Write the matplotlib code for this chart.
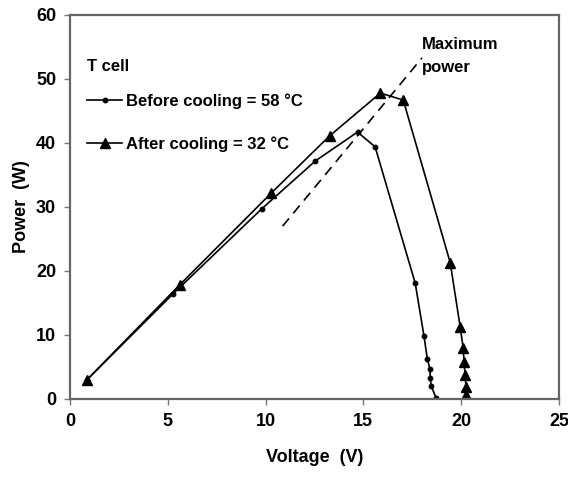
import matplotlib
matplotlib.use("Agg")
import matplotlib.pyplot as plt

plt.rcParams['font.family'] = ['Liberation Sans', 'DejaVu Sans']
plt.rcParams['font.weight'] = 'bold'

# Before cooling (T cell = 58 °C)
v_before = [0.87, 5.26, 9.8, 12.55, 14.7, 15.6, 17.65, 18.1, 18.27, 18.4, 18.42, 18.47, 18.72]
p_before = [3.0, 16.4, 29.7, 37.2, 41.7, 39.4, 18.1, 9.8, 6.25, 4.7, 3.3, 2.0, 0.15]

# After cooling (T cell = 32 °C)
v_after = [0.87, 5.6, 10.3, 13.27, 15.87, 17.04, 19.44, 19.95, 20.1, 20.15, 20.2, 20.25, 20.25, 20.25]
p_after = [3.0, 17.8, 32.2, 41.1, 47.8, 46.7, 21.3, 11.25, 8.0, 5.8, 3.75, 1.9, 0.6, 0.0]

# maximum power guide line
v_mpp = [10.87, 18.0]
p_mpp = [27.0, 53.3]

fig = plt.figure(figsize=(5.68, 4.83), dpi=100)
ax = fig.add_axes([0.1232, 0.174, 0.8609, 0.795])

ax.plot(v_before, p_before, color='black', lw=1.2, marker='o', ms=3.2,
        label='Before cooling = 58 °C')
ax.plot(v_after, p_after, color='black', lw=1.2, marker='^', ms=7,
        label='After cooling = 32 °C')
ax.plot(v_mpp, p_mpp, color='black', lw=1.2, dashes=(6, 4))
ax.text(18.0, 56.5, 'Maximum\npower', fontsize=12, fontweight='bold',
        va='top', ha='left', linespacing=1.6)

ax.set_xlim(0, 25)
ax.set_ylim(0, 60)
ax.set_xticks(range(0, 26, 5))
ax.set_yticks(range(0, 61, 10))
ax.tick_params(direction='out', length=4, width=1, color='#777777',
               labelsize=13, pad=6)
for lab in ax.get_xticklabels() + ax.get_yticklabels():
    lab.set_fontweight('bold')
for s in ax.spines.values():
    s.set_color('#666666')
    s.set_linewidth(1.6)

ax.set_xlabel('Voltage  (V)', fontsize=13, fontweight='bold', labelpad=14)
ax.set_ylabel('Power  (W)', fontsize=13, fontweight='bold', labelpad=4)

ax.text(0.035, 0.865, 'T cell', transform=ax.transAxes, fontsize=12,
        fontweight='bold', va='center', ha='left')
leg = ax.legend(loc='upper left', bbox_to_anchor=(0.005, 0.834), frameon=False,
                fontsize=12, handlelength=2.1, handletextpad=0.2,
                labelspacing=1.6)

fig.savefig('out.png', dpi=100)
